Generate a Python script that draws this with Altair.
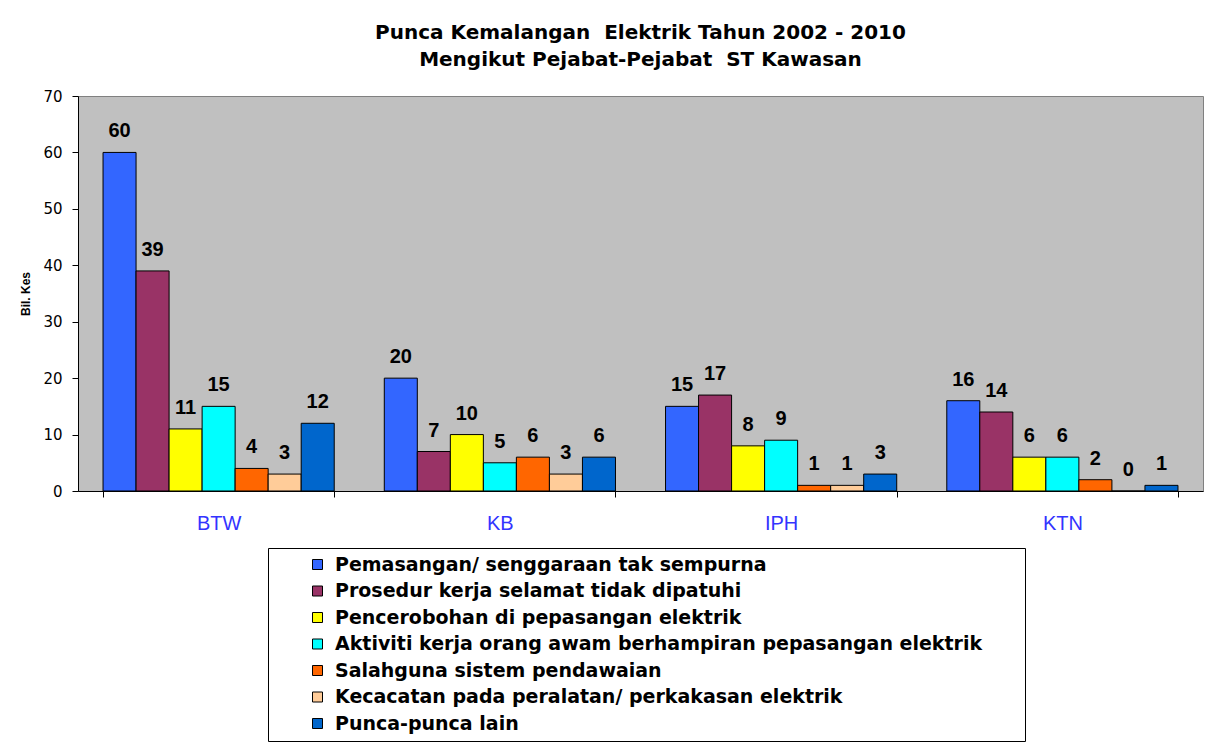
import altair as alt
import pandas as pd

regions = ["BTW", "KB", "IPH", "KTN"]
categories = [
    "Pemasangan/ senggaraan tak sempurna",
    "Prosedur kerja selamat tidak dipatuhi",
    "Pencerobohan di pepasangan elektrik",
    "Aktiviti kerja orang awam berhampiran pepasangan elektrik",
    "Salahguna sistem pendawaian",
    "Kecacatan pada peralatan/ perkakasan elektrik",
    "Punca-punca lain",
]
colors = ["#3366FF", "#993366", "#FFFF00", "#00FFFF", "#FF6600", "#FFCC99", "#0066CC"]
values_btw = [60, 39, 11, 15, 4, 3, 12]
values_kb = [20, 7, 10, 5, 6, 3, 6]
values_iph = [15, 17, 8, 9, 1, 1, 3]
values_ktn = [16, 14, 6, 6, 2, 0, 1]

rows = []
for reg, vals in zip(regions, [values_btw, values_kb, values_iph, values_ktn]):
    for cat, v in zip(categories, vals):
        rows.append({"Kawasan": reg, "Punca": cat, "Kes": v})
df = pd.DataFrame(rows)

x_enc = alt.X(
    "Kawasan:N",
    sort=regions,
    scale=alt.Scale(paddingInner=0.178, paddingOuter=0.089),
    axis=alt.Axis(
        title=None, labelAngle=0, labelColor="#3333FF", labelFontSize=20,
        labelFont="Liberation Sans", labelPadding=16, tickBand="extent",
        tickSize=6, tickColor="black", domainColor="black", labelBaseline="top",
    ),
)
xo_enc = alt.XOffset("Punca:N", sort=categories, scale=alt.Scale(paddingInner=0, paddingOuter=0))
y_enc = alt.Y(
    "Kes:Q",
    scale=alt.Scale(domain=[0, 70], nice=False),
    axis=alt.Axis(
        title="Bil. Kes", titleFontSize=12, titleFont="Liberation Sans", titleFontWeight="bold",
        titlePadding=10, values=[0, 10, 20, 30, 40, 50, 60, 70], grid=False,
        labelFontSize=15, labelFont="DejaVu Sans", labelColor="black", labelPadding=10,
        tickSize=6, tickColor="black", domainColor="black",
    ),
)

bars = alt.Chart(df).mark_bar(stroke="black", strokeWidth=1).encode(
    x=x_enc,
    xOffset=xo_enc,
    y=y_enc,
    color=alt.Color(
        "Punca:N",
        sort=categories,
        scale=alt.Scale(domain=categories, range=colors),
        legend=alt.Legend(
            title="\u00a0", titleOrient="right", titlePadding=36,
            orient="none", legendX=190, legendY=452,
            direction="vertical",
            fillColor="white", strokeColor="black", padding=7,
            symbolType="square", symbolSize=100, symbolStrokeColor="black",
            symbolStrokeWidth=1, symbolOffset=33, labelOffset=8,
            labelFont="DejaVu Sans", labelFontWeight="bold", labelFontSize=19,
            labelColor="black", labelLimit=900, rowPadding=6.5,
        ),
    ),
)

texts = alt.Chart(df).mark_text(
    font="Liberation Sans", fontSize=20, fontWeight="bold", color="black",
    baseline="middle", dy=-21,
).encode(
    x=alt.X("Kawasan:N", sort=regions),
    xOffset=alt.XOffset("Punca:N", sort=categories),
    y=alt.Y("Kes:Q"),
    text=alt.Text("Kes:Q"),
)

chart = alt.layer(bars, texts).properties(
    width=1125,
    height=395,
    autosize=alt.AutoSizeParams(type="none"),
    padding={"left": 70, "top": 88, "right": 14, "bottom": 251},
    title=alt.TitleParams(
        text=["Punca Kemalangan \u00a0Elektrik Tahun 2002 - 2010", "Mengikut Pejabat-Pejabat \u00a0ST Kawasan"],
        font="DejaVu Sans", fontSize=20, fontWeight="bold", color="black",
        anchor="middle", lineHeight=27, offset=19,
    ),
).configure(background="white").configure_view(fill="#C0C0C0", stroke="#808080")

chart.save("out.html", embed_options={"renderer": "svg", "actions": False})
